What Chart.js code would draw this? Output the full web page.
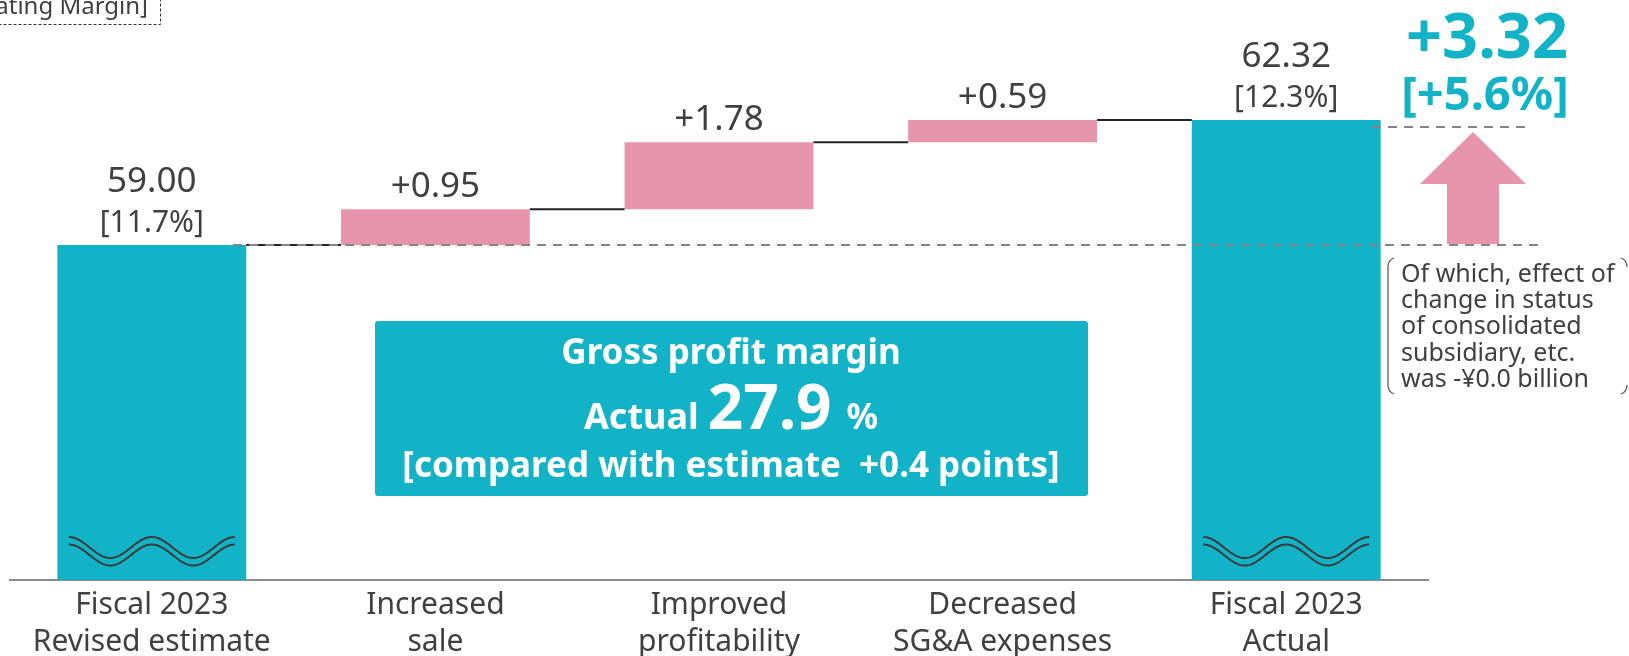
<!DOCTYPE html>
<html>
<head>
<meta charset="utf-8">
<script src="https://cdn.jsdelivr.net/npm/chart.js@4"></script>
<style>
html, body { margin: 0; padding: 0; background: #fff; overflow: hidden; }
canvas { display: block; }
</style>
</head>
<body>
<canvas id="chart" width="1629" height="656"></canvas>
<script>
const categories = [
    ['Fiscal 2023', 'Revised estimate'],
    ['Increased', 'sale'],
    ['Improved', 'profitability'],
    ['Decreased', 'SG&A expenses'],
    ['Fiscal 2023', 'Actual']
]
const changes = [59.00, 0.95, 1.78, 0.59, 62.32]
const isTotal = [true, false, false, false, true]
const valueLabels = ['59.00', '+0.95', '+1.78', '+0.59', '62.32']
const ratioLabels = ['[11.7%]', '', '', '', '[12.3%]']
const yMin = 50.1
const yMax = 65

const totalChange = '+3.32'
const totalChangeRate = '[+5.6%]'
const marginTitle = 'Gross profit margin'
const marginActual = '27.9'
const marginCompare = '[compared with estimate  +0.4 points]'
const noteLines = ['Of which, effect of', 'change in status', 'of consolidated', 'subsidiary, etc.', 'was -\u00a50.0 billion']
const headerText = '[Operating Income, Operating Margin]'

const TEAL = '#13b3c7'
const PINK = '#e795ac'
const TEXT = '#404040'
const FONT = "'Noto Sans', sans-serif"

// floating bars: totals start at the axis floor, steps start at the running total
let running = 0
const ranges = changes.map((v, i) => {
    if (isTotal[i]) {
        running = v
        return [yMin, v]
    }
    const r = [running, running + v]
    running += v
    return r
})

function dashedLine(ctx, x1, x2, y) {
    ctx.save()
    ctx.strokeStyle = '#858585'
    ctx.lineWidth = 2
    ctx.setLineDash([9, 7])
    ctx.beginPath()
    ctx.moveTo(x1, y)
    ctx.lineTo(x2, y)
    ctx.stroke()
    ctx.restore()
}

function wave(ctx, x0, yc) {
    ctx.beginPath()
    for (let x = 0; x <= 166; x += 1) {
        const y = yc - 10.5 * Math.cos(2 * Math.PI * x / 83)
        if (x === 0) ctx.moveTo(x0 + x, y)
        else ctx.lineTo(x0 + x, y)
    }
    ctx.stroke()
}

const decor = {
    id: 'decor',
    afterDatasetsDraw(chart) {
        const ctx = chart.ctx
        const y = chart.scales.y
        const bars = chart.getDatasetMeta(0).data

        // connectors between steps
        ctx.save()
        ctx.strokeStyle = '#222'
        ctx.lineWidth = 2
        for (let i = 0; i < bars.length - 1; i++) {
            const top = y.getPixelForValue(ranges[i][1])
            ctx.beginPath()
            ctx.moveTo(bars[i].x + bars[i].width / 2, top)
            ctx.lineTo(bars[i + 1].x - bars[i + 1].width / 2, top)
            ctx.stroke()
        }
        ctx.restore()

        // reference dashed lines
        const yStart = y.getPixelForValue(changes[0])
        const yEnd = y.getPixelForValue(changes[4])
        dashedLine(ctx, 233, 1542, yStart)
        dashedLine(ctx, 1372, 1528, yEnd + 7)

        // wavy break marks in the total bars
        ctx.save()
        ctx.strokeStyle = '#3a3a3a'
        ctx.lineWidth = 2
        bars.forEach((b, i) => {
            if (!isTotal[i]) return
            wave(ctx, b.x - 83, b.base - 32.5)
            wave(ctx, b.x - 83, b.base - 25)
        })
        ctx.restore()

        // value labels
        ctx.save()
        ctx.fillStyle = TEXT
        ctx.textAlign = 'center'
        ctx.textBaseline = 'alphabetic'
        bars.forEach((b, i) => {
            const top = Math.min(b.y, b.base)
            if (ratioLabels[i]) {
                ctx.font = `30px ${FONT}`
                ctx.fillText(ratioLabels[i], b.x, top - 13)
                ctx.font = `35px ${FONT}`
                ctx.fillText(valueLabels[i], b.x, top - 53)
            } else {
                ctx.font = `35px ${FONT}`
                ctx.fillText(valueLabels[i], b.x, top - 12)
            }
        })
        ctx.restore()

        // up arrow
        const ax = 1473
        const tip = yEnd + 12
        const headBase = tip + 52
        ctx.save()
        ctx.fillStyle = PINK
        ctx.beginPath()
        ctx.moveTo(ax, tip)
        ctx.lineTo(ax + 53, headBase)
        ctx.lineTo(ax + 26, headBase)
        ctx.lineTo(ax + 26, yStart - 1)
        ctx.lineTo(ax - 26, yStart - 1)
        ctx.lineTo(ax - 26, headBase)
        ctx.lineTo(ax - 53, headBase)
        ctx.closePath()
        ctx.fill()
        ctx.restore()

        // total change
        ctx.save()
        ctx.fillStyle = TEAL
        ctx.textAlign = 'center'
        ctx.font = `bold 63px ${FONT}`
        ctx.fillText(totalChange, 1487, 58)
        ctx.font = `bold 47px ${FONT}`
        ctx.fillText(totalChangeRate, 1485, 110)
        ctx.restore()
    },
    afterDraw(chart) {
        const ctx = chart.ctx

        // header box, clipped by the top-left corner
        ctx.save()
        ctx.fillStyle = TEXT
        ctx.font = `24px ${FONT}`
        ctx.textAlign = 'right'
        ctx.fillText(headerText, 148, 14)
        ctx.strokeStyle = '#333'
        ctx.lineWidth = 1
        ctx.setLineDash([3, 2])
        ctx.strokeRect(-10.5, -10.5, 171, 35)
        ctx.restore()

        // note with bracket
        ctx.save()
        ctx.strokeStyle = '#555'
        ctx.lineWidth = 1.2
        ctx.beginPath()
        ctx.moveTo(1394, 258)
        ctx.quadraticCurveTo(1388, 260, 1388, 267)
        ctx.lineTo(1388, 385)
        ctx.quadraticCurveTo(1388, 392, 1394, 394)
        ctx.moveTo(1621, 258)
        ctx.quadraticCurveTo(1627, 260, 1627, 267)
        ctx.moveTo(1627, 385)
        ctx.quadraticCurveTo(1627, 392, 1621, 394)
        ctx.stroke()
        ctx.fillStyle = TEXT
        ctx.font = `25px ${FONT}`
        ctx.textAlign = 'left'
        noteLines.forEach((line, i) => ctx.fillText(line, 1401, 282 + i * 26.2))
        ctx.restore()

        // gross profit margin box
        ctx.save()
        ctx.fillStyle = TEAL
        ctx.beginPath()
        ctx.roundRect(375, 321, 713, 175, 3)
        ctx.fill()
        ctx.fillStyle = '#fff'
        ctx.textAlign = 'center'
        ctx.font = `bold 35px ${FONT}`
        ctx.fillText(marginTitle, 731, 364)
        ctx.fillText(marginCompare, 731, 477)
        ctx.textAlign = 'left'
        const parts = [
            ['Actual', `bold 36px ${FONT}`, 9],
            [marginActual, `bold 62px ${FONT}`, 15],
            ['%', `bold 35px ${FONT}`, 0]
        ]
        let total = 0
        parts.forEach(p => {
            ctx.font = p[1]
            total += ctx.measureText(p[0]).width + p[2]
        })
        let x = 731 - total / 2
        parts.forEach(p => {
            ctx.font = p[1]
            ctx.fillText(p[0], x, 429)
            x += ctx.measureText(p[0]).width + p[2]
        })
        ctx.restore()
    }
}

new Chart(document.getElementById('chart'), {
    type: 'bar',
    data: {
        labels: categories,
        datasets: [{
            data: ranges,
            backgroundColor: isTotal.map(t => t ? TEAL : PINK),
            borderWidth: 0,
            barPercentage: 0.666,
            categoryPercentage: 1
        }]
    },
    options: {
        responsive: false,
        animation: false,
        layout: {
            padding: { left: 10, right: 201, top: 19.2, bottom: 0 }
        },
        plugins: {
            legend: { display: false },
            tooltip: { enabled: false }
        },
        scales: {
            x: {
                grid: { display: false, drawTicks: false },
                border: { display: true, color: '#8a8a8a', width: 2 },
                ticks: {
                    color: TEXT,
                    font: { family: FONT, size: 30, lineHeight: 1.24 },
                    padding: 7,
                    maxRotation: 0,
                    autoSkip: false
                },
                afterFit(scale) {
                    scale.height = 76
                }
            },
            y: {
                display: false,
                min: yMin,
                max: yMax
            }
        }
    },
    plugins: [decor]
})
</script>
</body>
</html>
